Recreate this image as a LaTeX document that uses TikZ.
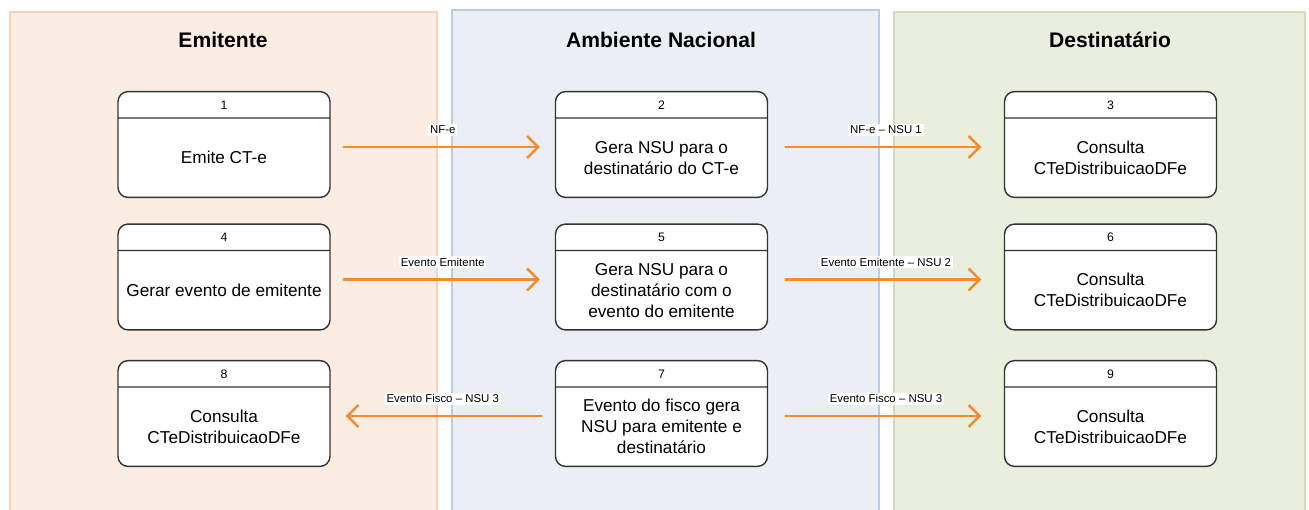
\documentclass[tikz,border=0pt]{standalone}
\usepackage{fontspec}
\setmainfont{Liberation Sans}
\usetikzlibrary{shapes.multipart,arrows.meta}

\definecolor{fundoEmit}{HTML}{FCEDE2}
\definecolor{bordaEmit}{HTML}{F5D2BA}
\definecolor{fundoAmb}{HTML}{EBEFF5}
\definecolor{bordaAmb}{HTML}{BDCBE0}
\definecolor{fundoDest}{HTML}{E9EEDD}
\definecolor{bordaDest}{HTML}{D2DBBE}
\definecolor{laranja}{HTML}{F58B2E}

\newcommand{\cab}[1]{\parbox[c][0.5cm][c]{4.24cm}{\centering\fontsize{7}{8}\selectfont #1}}
\newcommand{\corpo}[1]{\parbox[c][1.56cm][c]{4.24cm}{\centering\fontsize{9.8}{12}\selectfont #1}}

\begin{document}
\begin{tikzpicture}
  [x=0.02cm,y=-0.02cm,
   raia/.style={line width=1pt},
   titulo/.style={font=\fontsize{12}{14}\selectfont\bfseries},
   etapa/.style={rectangle split, rectangle split parts=2, draw=black!80, line width=0.8pt,
                 fill=white, rounded corners=0.2cm, inner sep=0pt},
   seta/.style={draw=laranja, line width=1.4pt, -{Straight Barb[length=2.2mm,width=4.4mm]},
                shorten <=0.25cm, shorten >=0.3cm, transform canvas={yshift=-0.05cm}},
   setadir/.style={seta, shorten <=0.34cm, shorten >=0.45cm},
   rotulo/.style={fill=white, inner sep=1pt, font=\fontsize{6.5}{7}\selectfont, above=0.2cm}]
  \useasboundingbox (0,0) rectangle (1309,510);

  % raias
  \draw[raia, draw=bordaEmit, fill=fundoEmit] (10,12) rectangle (437,520);
  \draw[raia, draw=bordaAmb, fill=fundoAmb] (452,10) rectangle (879,520);
  \draw[raia, draw=bordaDest, fill=fundoDest] (894,12) rectangle (1305,520);
  \node[titulo] (tEmit) at (223,40) {Emitente};
  \node[titulo] (tAmb) at (661,40) {Ambiente Nacional};
  \node[titulo] (tDest) at (1110,40) {Destinatário};

  % etapas
  \node[etapa] (e1) at (224,144.5) {\cab{1}\nodepart{two}\corpo{Emite CT-e}};
  \node[etapa] (e4) at (224,277) {\cab{4}\nodepart{two}\corpo{Gerar evento de emitente}};
  \node[etapa] (e8) at (224,413.5) {\cab{8}\nodepart{two}\corpo{Consulta\\CTeDistribuicaoDFe}};

  \node[etapa] (a2) at (661.5,144.5) {\cab{2}\nodepart{two}\corpo{Gera NSU para o\\destinatário do CT-e}};
  \node[etapa] (a5) at (661.5,277) {\cab{5}\nodepart{two}\corpo{Gera NSU para o\\destinatário com o\\evento do emitente}};
  \node[etapa] (a7) at (661.5,413.5) {\cab{7}\nodepart{two}\corpo{Evento do fisco gera\\NSU para emitente e\\destinatário}};

  \node[etapa] (d3) at (1110.5,144.5) {\cab{3}\nodepart{two}\corpo{Consulta\\CTeDistribuicaoDFe}};
  \node[etapa] (d6) at (1110.5,277) {\cab{6}\nodepart{two}\corpo{Consulta\\CTeDistribuicaoDFe}};
  \node[etapa] (d9) at (1110.5,413.5) {\cab{9}\nodepart{two}\corpo{Consulta\\CTeDistribuicaoDFe}};

  % fluxos
  \draw[seta] (e1.east) -- node[rotulo] {NF-e} (a2.west);
  \draw[setadir] (a2.east) -- node[rotulo] {NF-e -- NSU 1} (d3.west);
  \draw[seta] (e4.east) -- node[rotulo] {Evento Emitente} (a5.west);
  \draw[setadir] (a5.east) -- node[rotulo] {Evento Emitente -- NSU 2} (d6.west);
  \draw[seta] (a7.west) -- node[rotulo] {Evento Fisco -- NSU 3} (e8.east);
  \draw[setadir] (a7.east) -- node[rotulo] {Evento Fisco -- NSU 3} (d9.west);
\end{tikzpicture}
\end{document}
